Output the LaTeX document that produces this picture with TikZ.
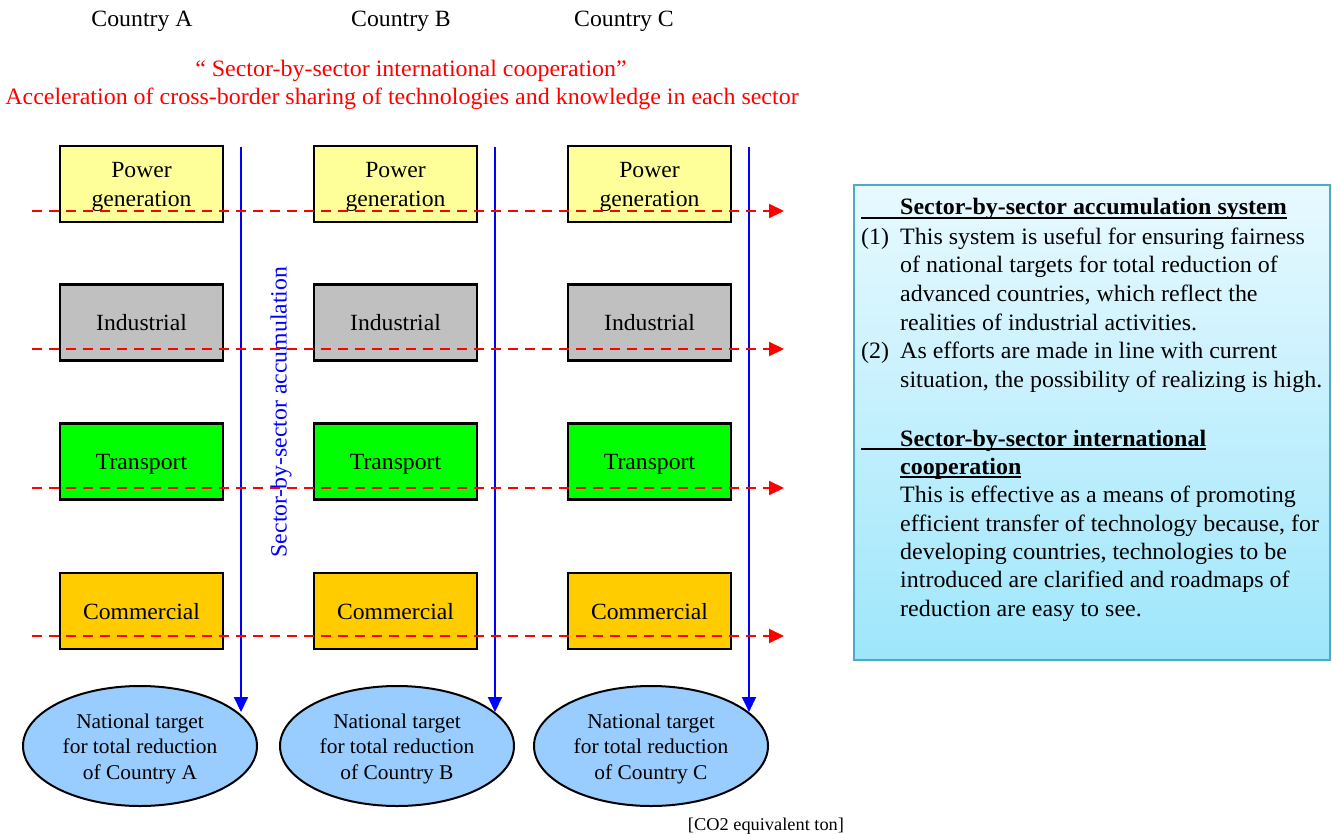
\documentclass[tikz,border=0pt]{standalone}
\usepackage{fontspec}
\setmainfont{Liberation Serif}[FakeStretch=1.02]
\usetikzlibrary{arrows.meta,shapes.geometric}
\definecolor{pwrfill}{HTML}{FFFF99}
\definecolor{indfill}{HTML}{C0C0C0}
\definecolor{trafill}{HTML}{00FF00}
\definecolor{comfill}{HTML}{FFCC00}
\definecolor{ellfill}{HTML}{99CCFF}
\definecolor{infoline}{HTML}{4BACC6}
\definecolor{infotop}{HTML}{E8F9FF}
\definecolor{infobot}{HTML}{9EE6FB}
\newcommand\myul[1]{\setbox0\hbox{#1}\rlap{\rule[-3.5pt]{\wd0}{1.5pt}}\box0}
\begin{document}
\begin{tikzpicture}[x=1pt,y=-1pt,
  sectorbox/.style={draw=black, line width=2.2pt, minimum width=163pt, minimum height=76pt,
    inner sep=0pt, align=center, font=\fontsize{23.2}{29}\selectfont},
  onebox/.style={sectorbox, text height=17pt, text depth=0.6pt},
  target/.style={ellipse, draw=black, line width=2pt, fill=ellfill, minimum width=234pt,
    minimum height=120pt, inner sep=0pt, align=center, font=\fontsize{21}{25.5}\selectfont},
  coop/.style={draw=red, dash pattern=on 10pt off 7pt, line width=2pt,
    -{Triangle[length=15pt,width=14pt,fill=red]}},
  accum/.style={draw=blue, line width=2pt, -{Triangle[length=15pt,width=14pt,fill=blue]}},
  country/.style={font=\fontsize{23.3}{27}\selectfont, inner sep=0pt},
  redtxt/.style={text=red, font=\fontsize{23.5}{27}\selectfont, inner sep=0pt},
  infotxt/.style={anchor=base west, inner sep=0pt, font=\fontsize{23.5}{28.7}\selectfont}
]
\useasboundingbox (0,0) rectangle (1332,834);

% country labels
\node[country] (cA) at (142,21) {Country A};
\node[country] (cB) at (401,21) {Country B};
\node[country] (cC) at (624,21) {Country C};

% red headline
\node[redtxt] (r1) at (411,71) {“ Sector-by-sector international cooperation”};
\node[redtxt] (r2) at (402,99) {Acceleration of cross-border sharing of technologies and knowledge in each sector};

% sector boxes
\foreach \c/\x in {A/141.5,B/395.5,C/649.5}{
  \node[sectorbox, fill=pwrfill] (pw\c) at (\x,184) {\rule{0pt}{22pt}Power\\generation};
  \node[onebox, fill=indfill] (in\c) at (\x,322.5) {Industrial};
  \node[onebox, fill=trafill] (tr\c) at (\x,461.5) {Transport};
  \node[onebox, fill=comfill] (co\c) at (\x,611) {Commercial};
}

% targets
\node[target] (eA) at (140,746) {\rule{0pt}{19.6pt}National target\\for total reduction\\of Country A};
\node[target] (eB) at (397,746) {\rule{0pt}{19.6pt}National target\\for total reduction\\of Country B};
\node[target] (eC) at (651,746) {\rule{0pt}{19.6pt}National target\\for total reduction\\of Country C};

% accumulation arrows
\foreach \c/\x in {A/241,B/495,C/749}{
  \coordinate (top\c) at (\x,147);
  \coordinate (end\c) at (\x,712);
  \draw[accum] (top\c) -- (end\c);
}
\node[rotate=90, text=blue, font=\fontsize{23.3}{27}\selectfont, inner sep=0pt] (acclab) at (281,412) {Sector-by-sector accumulation};

% cooperation arrows
\foreach \r/\y in {1/211,2/349,3/488,4/636}{
  \coordinate (ds\r) at (32,\y);
  \coordinate (de\r) at (784,\y);
  \draw[coop] (ds\r) -- (de\r);
}

% info box
\node[draw=infoline, line width=2.5pt, top color=infotop, bottom color=infobot,
  minimum width=476pt, minimum height=475pt, inner sep=0pt] (info) at (1092,422.5) {};

\node[infotxt] (h1) at (861,215) {\myul{\hspace{39pt}\textbf{Sector-by-sector accumulation system}}};
\node[infotxt] (n1) at (861,244) {(1)};
\node[infotxt] (l1) at (900,244) {This system is useful for ensuring fairness};
\node[infotxt] (l2) at (900,272.5) {of national targets for total reduction of};
\node[infotxt] (l3) at (900,301) {advanced countries, which reflect the};
\node[infotxt] (l4) at (900,330) {realities of industrial activities.};
\node[infotxt] (n2) at (861,358) {(2)};
\node[infotxt] (l5) at (900,358) {As efforts are made in line with current};
\node[infotxt] (l6) at (900,387) {situation, the possibility of realizing is high.};
\node[infotxt] (h2) at (861,446) {\myul{\hspace{39pt}\textbf{Sector-by-sector international}}};
\node[infotxt] (h3) at (900,474) {\myul{\textbf{cooperation}}};
\node[infotxt] (m1) at (900,502) {This is effective as a means of promoting};
\node[infotxt] (m2) at (900,531) {efficient transfer of technology because, for};
\node[infotxt] (m3) at (900,559) {developing countries, technologies to be};
\node[infotxt] (m4) at (900,587) {introduced are clarified and roadmaps of};
\node[infotxt] (m5) at (900,616) {reduction are easy to see.};

\node[inner sep=0pt, font=\fontsize{18}{21}\selectfont] (unit) at (766,826) {[CO2 equivalent ton]};
\end{tikzpicture}
\end{document}
